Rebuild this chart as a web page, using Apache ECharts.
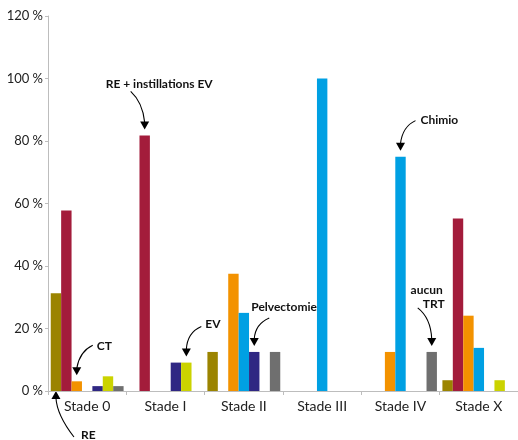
<!DOCTYPE html>
<html><head><meta charset="utf-8">
<script src="https://cdn.jsdelivr.net/npm/echarts@6/dist/echarts.min.js"></script>
<style>html,body{margin:0;padding:0;background:#fff}#c{width:518px;height:440px}</style>
</head><body><div id="c"></div>
<script>
const categories = ['Stade 0', 'Stade I', 'Stade II', 'Stade III', 'Stade IV', 'Stade X'];
const yTicks = [0, 20, 40, 60, 80, 100, 120];
const seriesNames = ['RE', 'RE + instillations EV', 'CT', 'Chimio', 'Pelvectomie', 'EV', 'aucun TRT'];
const valRE        = [31.25, 0, 12.5, 0, 0, 3.45];
const valREinst    = [57.8, 81.8, 0, 0, 0, 55.2];
const valCT        = [3.1, 0, 37.5, 0, 12.5, 24.1];
const valChimio    = [0, 0, 25, 100, 75, 13.8];
const valPelvect   = [1.56, 9.09, 12.5, 0, 0, 0];
const valEV        = [4.7, 9.09, 0, 0, 0, 3.45];
const valAucun     = [1.56, 0, 12.5, 0, 12.5, 0];
const allValues = [valRE, valREinst, valCT, valChimio, valPelvect, valEV, valAucun];
const colors = ['#9b8400', '#a31c3b', '#f39200', '#00a0e3', '#2f2783', '#cbd300', '#6f6f6f'];

const FONT = 'Lato, "Open Sans", sans-serif';
const GAP = 0.07;

const chart = echarts.init(document.getElementById('c'), null, {renderer: 'canvas'});
chart.setOption({
  animation: false,
  backgroundColor: '#fff',
  grid: {left: 48, right: -4, top: 16, bottom: 49, containLabel: false},
  xAxis: {
    type: 'category', data: categories,
    axisLine: {lineStyle: {color: '#bdbdbd', width: 1}},
    axisTick: {show: true, length: 4, alignWithLabel: false, lineStyle: {color: '#bdbdbd'}},
    axisLabel: {color: '#222', fontSize: 14, fontFamily: FONT, margin: 8, interval: 0}
  },
  yAxis: {
    type: 'value', min: yTicks[0], max: yTicks[yTicks.length - 1], interval: 20,
    axisLine: {show: true, lineStyle: {color: '#bdbdbd', width: 1}},
    axisTick: {show: true, length: 3, lineStyle: {color: '#bdbdbd'}},
    splitLine: {show: false},
    axisLabel: {color: '#222', fontSize: 13, fontFamily: FONT, margin: 5, formatter: '{value} %'}
  },
  series: allValues.map((v, i) => ({
    name: seriesNames[i], type: 'bar', data: v,
    barGap: '0%', barCategoryGap: (GAP * 100) + '%',
    itemStyle: {color: colors[i]}
  }))
});

// annotation arrows, anchored to the bars via the chart's own scales
const annotations = [
  {s: 1, c: 1, dir: 'down', S: [-14, -38], C: [-2, -27], texts: [{t: 'RE + instillations EV', d: [-39, -45], a: 'left'}]},
  {s: 3, c: 4, dir: 'down', S: [15, -30], C: [2, -24], texts: [{t: 'Chimio', d: [20, -31], a: 'left'}]},
  {s: 2, c: 0, dir: 'down', S: [16, -30], C: [3, -24], texts: [{t: 'CT', d: [20, -29], a: 'left'}]},
  {s: 5, c: 1, dir: 'down', S: [15, -30], C: [1, -24], texts: [{t: 'EV', d: [19, -32], a: 'left'}]},
  {s: 4, c: 2, dir: 'down', S: [15, -28], C: [1, -22], texts: [{t: 'Pelvectomie', d: [-3, -39], a: 'left'}]},
  {s: 6, c: 4, dir: 'down', S: [-14, -38], C: [-1, -28], texts: [{t: 'aucun', d: [11, -56], a: 'right'}, {t: 'TRT', d: [13, -42], a: 'right'}]},
  {s: 0, c: 0, dir: 'up', S: [18, 46], C: [1, 24], texts: [{t: 'RE', d: [25, 44], a: 'left'}]}
];

const p0 = chart.convertToPixel({xAxisIndex: 0, yAxisIndex: 0}, [0, 0]);
const p1 = chart.convertToPixel({xAxisIndex: 0, yAxisIndex: 0}, [1, 0]);
const catW = p1[0] - p0[0];
const bw = catW * (1 - GAP) / allValues.length;
const graphics = [];
annotations.forEach(an => {
  const val = allValues[an.s][an.c];
  const base = chart.convertToPixel({xAxisIndex: 0, yAxisIndex: 0}, [an.c, an.dir === 'down' ? val : 0]);
  const cx = base[0] + (an.s - (allValues.length - 1) / 2) * bw;
  const T = an.dir === 'down' ? [cx, base[1] - 6] : [cx, base[1]];
  const ah = 8, aw = 4.5;
  const endY = an.dir === 'down' ? T[1] - ah + 1 : T[1] + ah - 1;
  graphics.push({
    type: 'bezierCurve', silent: true,
    shape: {x1: T[0] + an.S[0], y1: T[1] + an.S[1], x2: T[0], y2: endY, cpx1: T[0] + an.C[0], cpy1: T[1] + an.C[1]},
    style: {stroke: '#000', lineWidth: 1.1, fill: null}
  });
  const by = an.dir === 'down' ? T[1] - ah : T[1] + ah;
  graphics.push({
    type: 'polygon', silent: true,
    shape: {points: [[T[0] - aw, by], [T[0] + aw, by], [T[0], T[1]]]},
    style: {fill: '#000'}
  });
  an.texts.forEach(tx => {
    graphics.push({
      type: 'text', silent: true, x: T[0] + tx.d[0], y: T[1] + tx.d[1],
      style: {text: tx.t, fill: '#111', font: 'bold 12px ' + FONT, textAlign: tx.a, textVerticalAlign: 'middle'}
    });
  });
});
chart.setOption({graphic: graphics});
</script>
</body></html>
